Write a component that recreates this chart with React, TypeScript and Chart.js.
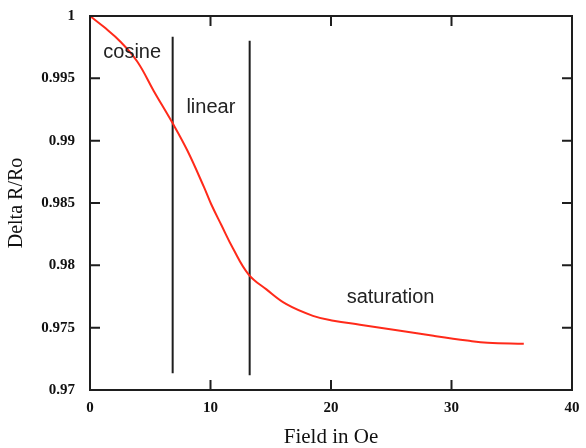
import React, { useEffect, useRef } from "react";
import { Chart, registerables } from "chart.js";

Chart.register(...registerables);

const fieldOe = [0, 1.14, 2.53, 3.92, 5.3, 6.83, 8.08, 9.47, 10.05, 10.9, 11.86, 13.17, 14.64, 16.3, 18.5, 20.2, 22.4, 25.75, 28.5, 31.3, 33, 36];
const deltaR = [1, 0.99913, 0.99794, 0.99635, 0.99397, 0.99145, 0.98921, 0.98625, 0.98492, 0.98323, 0.98137, 0.97926, 0.97807, 0.97688, 0.97595, 0.97556, 0.97524, 0.97476, 0.97435, 0.97397, 0.97379, 0.97371];

const boundaryX = [6.86, 13.25];
const boundaryTop = [0.99833, 0.99802];
const boundaryBottom = [0.97135, 0.97119];

const regionNames = ["cosine", "linear", "saturation"];
const regionX = [1.1, 8.0, 21.3];
const regionY = [0.99707, 0.9927, 0.97742];

const yTickLabels = ["0.97", "0.975", "0.98", "0.985", "0.99", "0.995", "1"];
const xTickValues = [0, 10, 20, 30, 40];

const framePlugin = {
  id: "frameTicks",
  afterDraw(chart: any) {
    const { ctx, chartArea } = chart;
    const xs = chart.scales.x;
    const ys = chart.scales.y;
    ctx.save();
    ctx.strokeStyle = "#1e1e1e";
    ctx.lineWidth = 2;
    ctx.strokeRect(chartArea.left, chartArea.top, chartArea.right - chartArea.left, chartArea.bottom - chartArea.top);
    const len = 10;
    ctx.beginPath();
    xTickValues.forEach((v) => {
      const px = xs.getPixelForValue(v);
      ctx.moveTo(px, chartArea.bottom);
      ctx.lineTo(px, chartArea.bottom - len);
      ctx.moveTo(px, chartArea.top);
      ctx.lineTo(px, chartArea.top + len);
    });
    yTickLabels.forEach((_, i) => {
      const py = ys.getPixelForValue(0.97 + 0.005 * i);
      ctx.moveTo(chartArea.left, py);
      ctx.lineTo(chartArea.left + len, py);
      ctx.moveTo(chartArea.right, py);
      ctx.lineTo(chartArea.right - len, py);
    });
    ctx.stroke();
    ctx.fillStyle = "#222";
    ctx.font = "20px 'Liberation Sans', Arial, sans-serif";
    ctx.textBaseline = "middle";
    ctx.textAlign = "left";
    regionNames.forEach((name, i) => {
      ctx.fillText(name, xs.getPixelForValue(regionX[i]), ys.getPixelForValue(regionY[i]));
    });
    ctx.restore();
  },
};

export default function App() {
  const canvasRef = useRef<HTMLCanvasElement | null>(null);

  useEffect(() => {
    if (!canvasRef.current) return;
    const boundaryDatasets = boundaryX.map((bx, i) => ({
      label: "boundary" + i,
      data: [
        { x: bx, y: boundaryTop[i] },
        { x: bx, y: boundaryBottom[i] },
      ],
      borderColor: "#1e1e1e",
      borderWidth: 2,
      pointRadius: 0,
      fill: false,
    }));
    const chart = new Chart(canvasRef.current, {
      type: "line",
      data: {
        datasets: [
          {
            label: "Delta R/Ro",
            data: fieldOe.map((x, i) => ({ x, y: deltaR[i] })),
            borderColor: "#ff2a1a",
            borderWidth: 2,
            pointRadius: 0,
            fill: false,
            tension: 0.4,
          },
          ...boundaryDatasets,
        ],
      },
      options: {
        animation: false,
        responsive: false,
        maintainAspectRatio: false,
        layout: { padding: { top: 12, right: 14, left: 0, bottom: 0 } },
        plugins: { legend: { display: false }, tooltip: { enabled: false } },
        scales: {
          x: {
            type: "linear",
            min: 0,
            max: 40,
            grid: { display: false },
            border: { display: false },
            ticks: {
              stepSize: 10,
              padding: 1,
              color: "#111",
              font: { family: "'Liberation Serif', serif", size: 15, weight: "bold" },
              callback: (v: any) => String(v),
            },
            title: {
              display: true,
              text: "Field in Oe",
              color: "#111",
              font: { family: "'Liberation Serif', serif", size: 21, lineHeight: 1 },
              padding: { top: 0, bottom: 0 },
            },
            afterFit: (scale: any) => {
              scale.height = 58;
            },
          },
          y: {
            type: "linear",
            min: 0.97,
            max: 1,
            grid: { display: false },
            border: { display: false },
            ticks: {
              stepSize: 0.005,
              padding: 7,
              color: "#111",
              font: { family: "'Liberation Serif', serif", size: 15, weight: "bold" },
              callback: (v: any) => {
                const idx = Math.round((Number(v) - 0.97) / 0.005);
                return yTickLabels[idx] ?? "";
              },
            },
            title: {
              display: true,
              text: "Delta R/Ro",
              color: "#111",
              font: { family: "'Liberation Serif', serif", size: 20, lineHeight: 1 },
              padding: { top: 7, bottom: 0 },
            },
            afterFit: (scale: any) => {
              scale.width = 90;
            },
          },
        },
      },
      plugins: [framePlugin],
    });
    return () => chart.destroy();
  }, []);

  return (
    <div style={{ position: "fixed", left: 0, top: 0, width: 586, height: 448, background: "#fff" }}>
      <canvas ref={canvasRef} width={586} height={448} style={{ width: 586, height: 448 }} />
    </div>
  );
}
